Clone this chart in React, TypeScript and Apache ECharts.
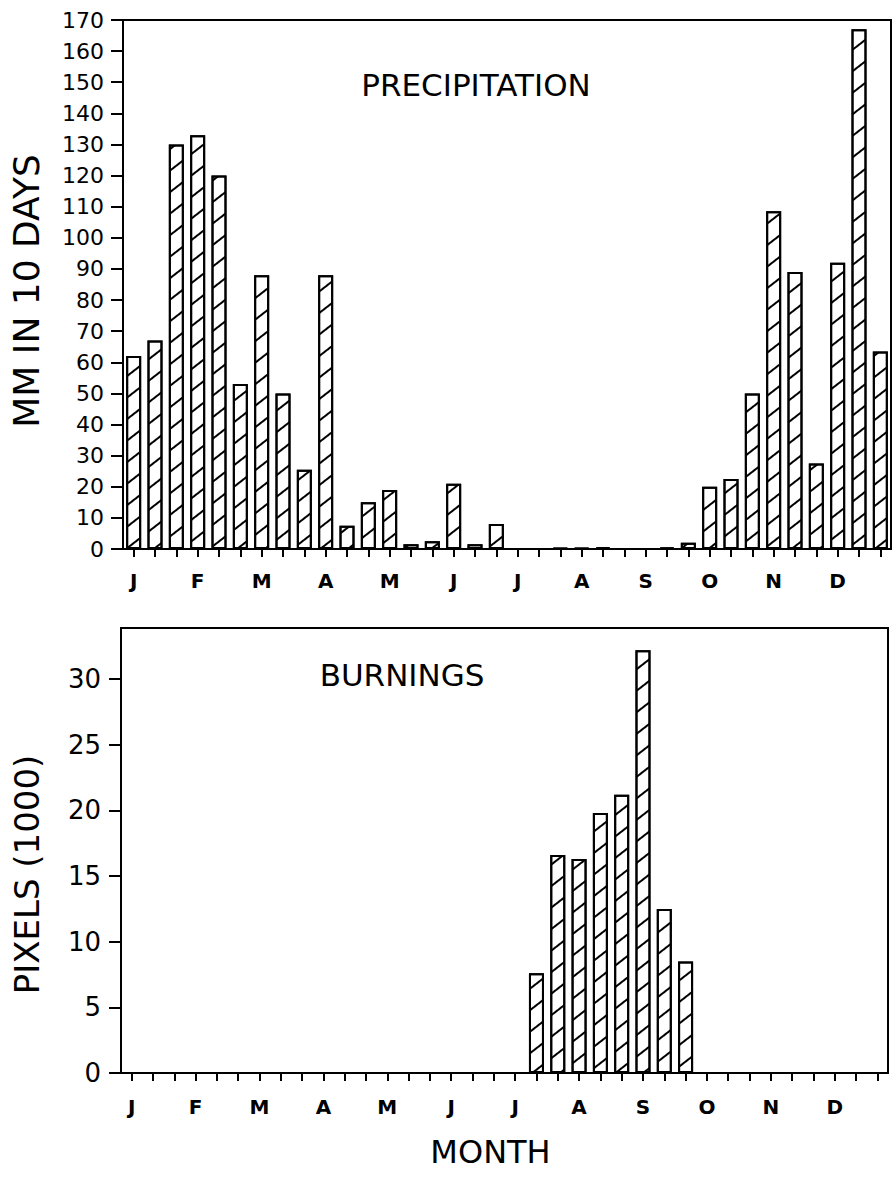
import React, { useEffect, useRef } from "react";
import * as echarts from "echarts";

const dekads = [
  "Jan1", "Jan2", "Jan3", "Feb1", "Feb2", "Feb3", "Mar1", "Mar2", "Mar3",
  "Apr1", "Apr2", "Apr3", "May1", "May2", "May3", "Jun1", "Jun2", "Jun3",
  "Jul1", "Jul2", "Jul3", "Aug1", "Aug2", "Aug3", "Sep1", "Sep2", "Sep3",
  "Oct1", "Oct2", "Oct3", "Nov1", "Nov2", "Nov3", "Dec1", "Dec2", "Dec3",
];
const monthLetters = ["J", "F", "M", "A", "M", "J", "J", "A", "S", "O", "N", "D"];

// mm per 10 days
const precipitation = [
  62, 67, 130, 133, 120, 53, 88, 50, 25.5,
  88, 7.5, 15, 19, 1.5, 2.5, 21, 1.5, 8,
  0, 0, 0.3, 0.3, 0.6, 0, 0, 0.5, 2,
  20, 22.5, 50, 108.5, 89, 27.5, 92, 167, 63.5,
];

// pixels (1000)
const burnings = [
  0, 0, 0, 0, 0, 0, 0, 0, 0,
  0, 0, 0, 0, 0, 0, 0, 0, 0,
  0, 7.6, 16.6, 16.3, 19.8, 21.2, 32.2, 12.5, 8.5,
  0, 0, 0, 0, 0, 0, 0, 0, 0,
];

const precipTicks = [0, 10, 20, 30, 40, 50, 60, 70, 80, 90, 100, 110, 120, 130, 140, 150, 160, 170];
const burnTicks = [0, 5, 10, 15, 20, 25, 30];

const FONT = "DejaVu Sans";

export default function App() {
  const ref = useRef<HTMLDivElement>(null);
  useEffect(() => {
    if (!ref.current) return;
    const chart = echarts.init(ref.current, null, { renderer: "svg" });

    const hatch = {
      symbol: "rect",
      symbolSize: 1,
      color: "#000",
      dashArrayX: [1, 0],
      dashArrayY: [1.8, 15],
      rotation: -0.66,
    };

    const xAxisBase = (gridIndex: number, withName: boolean, labelMargin: number) => ({
      type: "category",
      gridIndex,
      data: dekads,
      boundaryGap: true,
      axisLine: { show: true, lineStyle: { color: "#000", width: 2 } },
      axisTick: { show: true, alignWithLabel: true, interval: 0, length: 8, lineStyle: { color: "#000", width: 2 } },
      axisLabel: {
        interval: 2,
        margin: labelMargin,
        color: "#000",
        fontFamily: FONT,
        fontSize: 20,
        fontWeight: "bold",
        formatter: (_v: string, i: number) => monthLetters[Math.floor(i / 3)],
      },
      name: withName ? "MONTH" : "",
      nameLocation: "middle",
      nameGap: 63,
      nameTextStyle: { color: "#000", fontFamily: FONT, fontSize: 32, padding: [0, 28, 0, 0] },
      splitLine: { show: false },
    });

    const yAxisBase = (
      gridIndex: number,
      name: string,
      max: number,
      interval: number,
      ticks: number[],
      nameSize: number,
      nameGap: number,
      shift: number,
      labelSize: number,
      labelMargin: number
    ) => ({
      type: "value",
      gridIndex,
      min: 0,
      max,
      interval,
      name,
      nameLocation: "middle",
      nameRotate: 90,
      nameGap,
      nameTextStyle: { color: "#000", fontFamily: FONT, fontSize: nameSize, padding: [0, shift, 0, 0] },
      axisLine: { show: true, lineStyle: { color: "#000", width: 2 } },
      axisTick: { show: true, length: 12, customValues: ticks, lineStyle: { color: "#000", width: 2 } },
      axisLabel: { color: "#000", fontFamily: FONT, fontSize: labelSize, margin: labelMargin, customValues: ticks },
      splitLine: { show: false },
    });

    chart.setOption({
      animation: false,
      backgroundColor: "#fff",
      grid: [
        { left: 122, top: 20, width: 769, height: 529, show: true, borderColor: "#000", borderWidth: 2 },
        { left: 121, top: 628, width: 767, height: 445, show: true, borderColor: "#000", borderWidth: 2 },
      ],
      xAxis: [xAxisBase(0, false, 22), xAxisBase(1, true, 24)],
      yAxis: [
        yAxisBase(0, "MM IN 10 DAYS", 170, 10, precipTicks, 36, 79, 13, 22, 19),
        yAxisBase(1, "PIXELS (1000)", 33.9, 5, burnTicks, 34, 77, 48, 26, 20),
      ],
      graphic: [
        {
          type: "text",
          x: 476,
          y: 85,
          style: { text: "PRECIPITATION", fill: "#000", font: `31px "${FONT}"`, textAlign: "center", textVerticalAlign: "middle" },
        },
        {
          type: "text",
          x: 402,
          y: 675,
          style: { text: "BURNINGS", fill: "#000", font: `31px "${FONT}"`, textAlign: "center", textVerticalAlign: "middle" },
        },
      ],
      series: [
        {
          type: "bar",
          xAxisIndex: 0,
          yAxisIndex: 0,
          data: precipitation,
          barWidth: 15,
          itemStyle: { color: "#fff", borderColor: "#000", borderWidth: 2, decal: hatch },
        },
        {
          type: "bar",
          xAxisIndex: 1,
          yAxisIndex: 1,
          data: burnings,
          barWidth: 15,
          itemStyle: { color: "#fff", borderColor: "#000", borderWidth: 2, decal: hatch },
        },
      ],
    });
    return () => chart.dispose();
  }, []);
  return <div ref={ref} style={{ position: "absolute", left: 0, top: 0, width: 894, height: 1183 }} />;
}
